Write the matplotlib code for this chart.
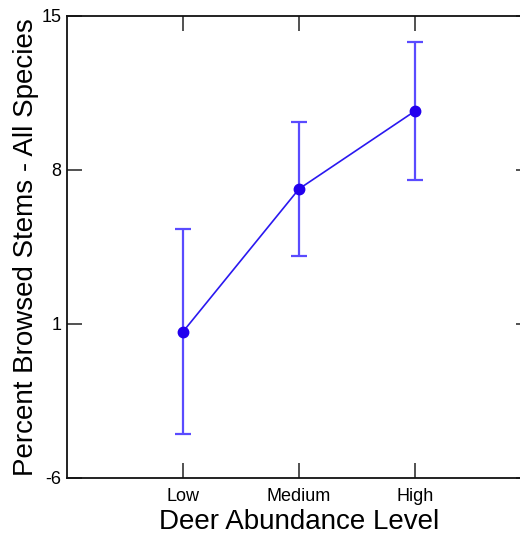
import matplotlib
matplotlib.use("Agg")
import matplotlib.pyplot as plt

categories = ["Low", "Medium", "High"]
means = [0.65, 7.14, 10.68]
errors = [4.67, 3.05, 3.13]
yticks = [-6, 1, 8, 15]

plt.rcParams['font.family'] = ['Liberation Sans', 'DejaVu Sans']

fig = plt.figure(figsize=(5.2, 5.38), dpi=100)
ax = fig.add_axes([67/520, 60/538, 464/520, 462/538])

x = list(range(1, len(categories) + 1))
ax.errorbar(x, means, yerr=errors, fmt='none', ecolor='#5a4bff', elinewidth=1.6,
            capsize=6, capthick=1.6, zorder=2)
ax.plot(x, means, color='#2a18f0', lw=1.2, marker='o', markersize=7.5,
        markerfacecolor='#2200ee', markeredgecolor='#2200ee', zorder=3)

ax.set_xlim(0, 4)
ax.set_ylim(-6, 15)
ax.set_xticks(x)
ax.set_xticklabels(categories)
ax.set_yticks(yticks)
ax.set_yticklabels([str(v) for v in yticks])

ax.tick_params(axis='both', direction='in', length=11, width=1.2, color='#333333',
               labelsize=13, top=True, right=True)
ax.tick_params(axis='x', pad=7)
ax.tick_params(axis='y', pad=4)
for s in ax.spines.values():
    s.set_linewidth(1.3)
    s.set_color('#111111')

ax.set_xlabel("Deer Abundance Level", fontsize=20, labelpad=3)
ax.set_ylabel("Percent Browsed Stems - All Species", fontsize=20, labelpad=2)

fig.savefig("out.png", dpi=100)
